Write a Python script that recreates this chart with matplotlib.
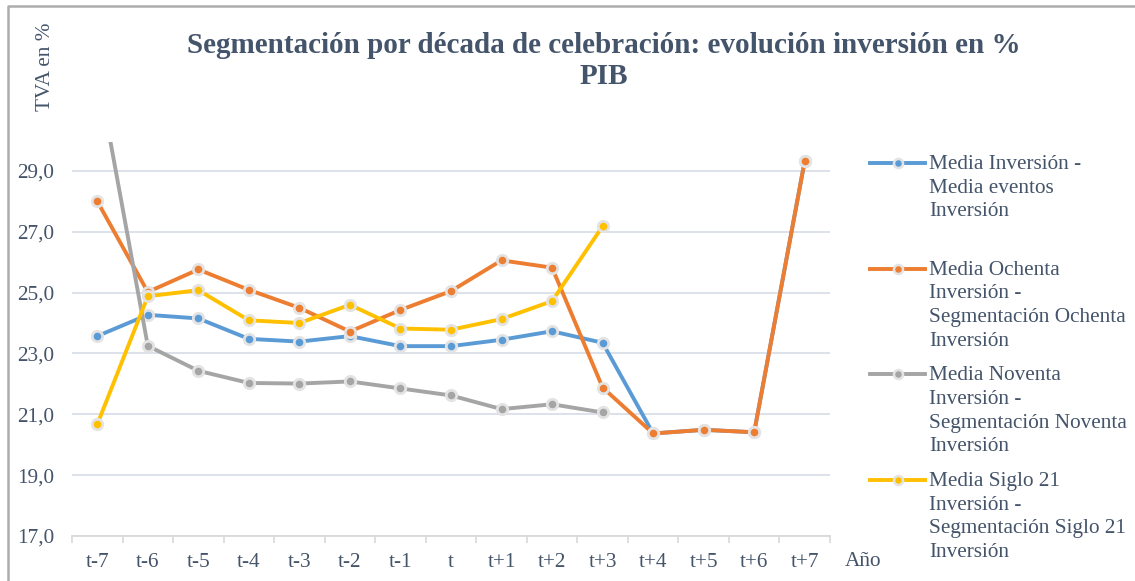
import numpy as np
import matplotlib
matplotlib.use('Agg')
import matplotlib.pyplot as plt
from matplotlib.lines import Line2D
from matplotlib.ticker import FuncFormatter

plt.rcParams['font.family'] = 'Liberation Serif'

years = ['t-7', 't-6', 't-5', 't-4', 't-3', 't-2', 't-1', 't',
         't+1', 't+2', 't+3', 't+4', 't+5', 't+6', 't+7']

media_total = [23.57, 24.27, 24.15, 23.48, 23.39, 23.57, 23.24, 23.24,
               23.45, 23.73, 23.35, 20.37, 20.49, 20.41, 29.33]
media_ochenta = [28.0, 25.02, 25.76, 25.09, 24.50, 23.72, 24.43, 25.05,
                 26.06, 25.82, 21.88, 20.37, 20.49, 20.41, 29.33]
media_noventa = [32.33, 23.25, 22.43, 22.03, 22.01, 22.08, 21.85, 21.62,
                 21.17, 21.33, 21.06, np.nan, np.nan, np.nan, np.nan]
media_siglo21 = [20.67, 24.88, 25.08, 24.09, 24.00, 24.60, 23.82, 23.78,
                 24.13, 24.72, 27.18, np.nan, np.nan, np.nan, np.nan]

labels = ['Media Inversión -\nMedia eventos\nInversión',
          'Media Ochenta\nInversión -\nSegmentación Ochenta\nInversión',
          'Media Noventa\nInversión -\nSegmentación Noventa\nInversión',
          'Media Siglo 21\nInversión -\nSegmentación Siglo 21\nInversión']
colores = ['#5B9BD5', '#ED7D31', '#A5A5A5', '#FFC000']
series = [media_total, media_ochenta, media_noventa, media_siglo21]

txt = '#44546A'
fs = 15.3
W, H = 1135, 581
fig = plt.figure(figsize=(W / 100, H / 100), dpi=100)
ax = fig.add_axes([72 / W, 1 - 536 / H, 758 / W, 394 / H])

x = np.arange(len(years))
for s, c in zip(series, colores):
    ax.plot(x, s, color=c, lw=2.8, marker='o', ms=7.5, mfc=c,
            mec='#E3E3E3', mew=2.0, solid_capstyle='round')

ax.set_xlim(-0.5, len(years) - 0.5)
ax.set_ylim(17, 29.95)
ax.set_yticks(np.arange(17, 30, 2))
ax.yaxis.set_major_formatter(FuncFormatter(
    lambda v, p: ('%.1f' % v).replace('.', ',')))
ax.set_xticks(x)
ax.set_xticklabels(years)
ax.set_xticks(np.arange(-0.5, len(years)), minor=True)
ax.tick_params(axis='x', which='major', length=0, pad=12,
               labelsize=fs, labelcolor=txt)
ax.tick_params(axis='x', which='minor', length=5, color='#D9D9D9', width=1.2)
ax.tick_params(axis='y', length=0, pad=13, labelsize=fs, labelcolor=txt)
ax.grid(axis='y', color='#D9DEE8', lw=1.3)
ax.set_axisbelow(True)
for side in ['top', 'right', 'left']:
    ax.spines[side].set_visible(False)
ax.spines['bottom'].set_color('#D9D9D9')
ax.spines['bottom'].set_linewidth(1.3)

fig.text(604 / W, 1 - 61 / H,
         'Segmentación por década de celebración: evolución inversión en %\nPIB',
         ha='center', va='center', fontsize=21, fontweight='bold', color=txt,
         linespacing=1.16)
fig.text(45 / W, 1 - 67 / H, 'TVA en %', rotation=90, ha='center', va='center',
         fontsize=fs, color=txt)
fig.text(845 / W, 1 - 561 / H, 'Año', ha='left', va='center', fontsize=fs,
         color=txt)

# leyenda manual
for i, (lab, c) in enumerate(zip(labels, colores)):
    yy = 1 - (163 + i * 105.7) / H
    fig.add_artist(Line2D([870 / W, 925 / W], [yy, yy], color=c, lw=2.8))
    fig.add_artist(Line2D([898 / W], [yy], color=c, marker='o', ms=6.5,
                          mfc=c, mec='#E3E3E3', mew=1.8))
    fig.text(929 / W, yy + 8 / H, lab, ha='left', va='top', fontsize=fs,
             color=txt, linespacing=1.33)

# borde del grafico
fig.add_artist(Line2D([8 / W, 8 / W, 1.0], [0.0, 1 - 6 / H, 1 - 6 / H],
                      color='#ADADAD', lw=1.8))

fig.savefig('out.png', dpi=100)
